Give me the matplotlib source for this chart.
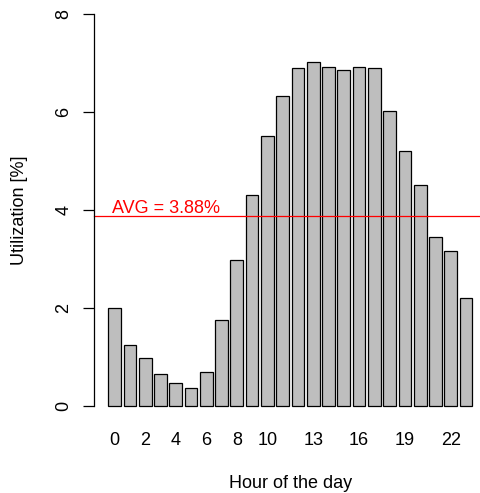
import matplotlib.pyplot as plt
import numpy as np

plt.rcParams['font.family'] = ['Liberation Sans', 'DejaVu Sans']

# hourly utilization in percent, hours 0..23
hours = list(range(24))
utilization = [2.00, 1.23, 0.97, 0.64, 0.47, 0.35, 0.69, 1.75, 2.98, 4.31,
               5.51, 6.32, 6.89, 7.02, 6.91, 6.86, 6.91, 6.89, 6.02, 5.21,
               4.51, 3.45, 3.15, 2.19]
avg = 3.88
labelled_hours = [0, 2, 4, 6, 8, 10, 13, 16, 19, 22]
yticks = [0, 2, 4, 6, 8]

W, H = 480, 493
fig = plt.figure(figsize=(W / 100, H / 100), dpi=100)

# plot region in pixels (R style barplot, width 1, space 0.2)
left_px, right_px = 93.7, 486.9
top_px, bottom_px = -1.66, 421.2
ax = fig.add_axes([left_px / W, 1 - bottom_px / H,
                   (right_px - left_px) / W, (bottom_px - top_px) / H])

centers = 0.7 + 1.2 * np.arange(len(hours))
ax.bar(centers, utilization, width=1.0, color='#bebebe',
       edgecolor='black', linewidth=0.9)

ax.axhline(avg, color='#ff0000', linewidth=0.9, clip_on=False)
ax.text(0.49, 3.93, "AVG = %.2f%%" % avg, color='#ff0000', fontsize=13,
        ha='left', va='baseline')

ax.set_xlim(-0.944, 29.944)
ax.set_ylim(-0.32, 8.32)

for s in ['top', 'right', 'bottom']:
    ax.spines[s].set_visible(False)
ax.spines['left'].set_bounds(0, 8)
ax.spines['left'].set_linewidth(0.9)

ax.set_yticks(yticks)
ax.set_yticklabels([str(v) for v in yticks], rotation=90, va='center',
                   fontsize=13)
ax.tick_params(axis='y', length=8, width=0.9, pad=7.5)

ax.set_xticks([centers[h] for h in labelled_hours])
ax.set_xticklabels([str(h) for h in labelled_hours], fontsize=13)
ax.tick_params(axis='x', length=0, pad=8)

fig.text(290.3 / W, 1 - 483 / H, "Hour of the day", fontsize=13,
         ha='center', va='center')
fig.text(20 / W, 1 - 209.8 / H, "Utilization [%]", fontsize=13,
         ha='center', va='center', rotation=90)

fig.savefig('out.png', dpi=100)
